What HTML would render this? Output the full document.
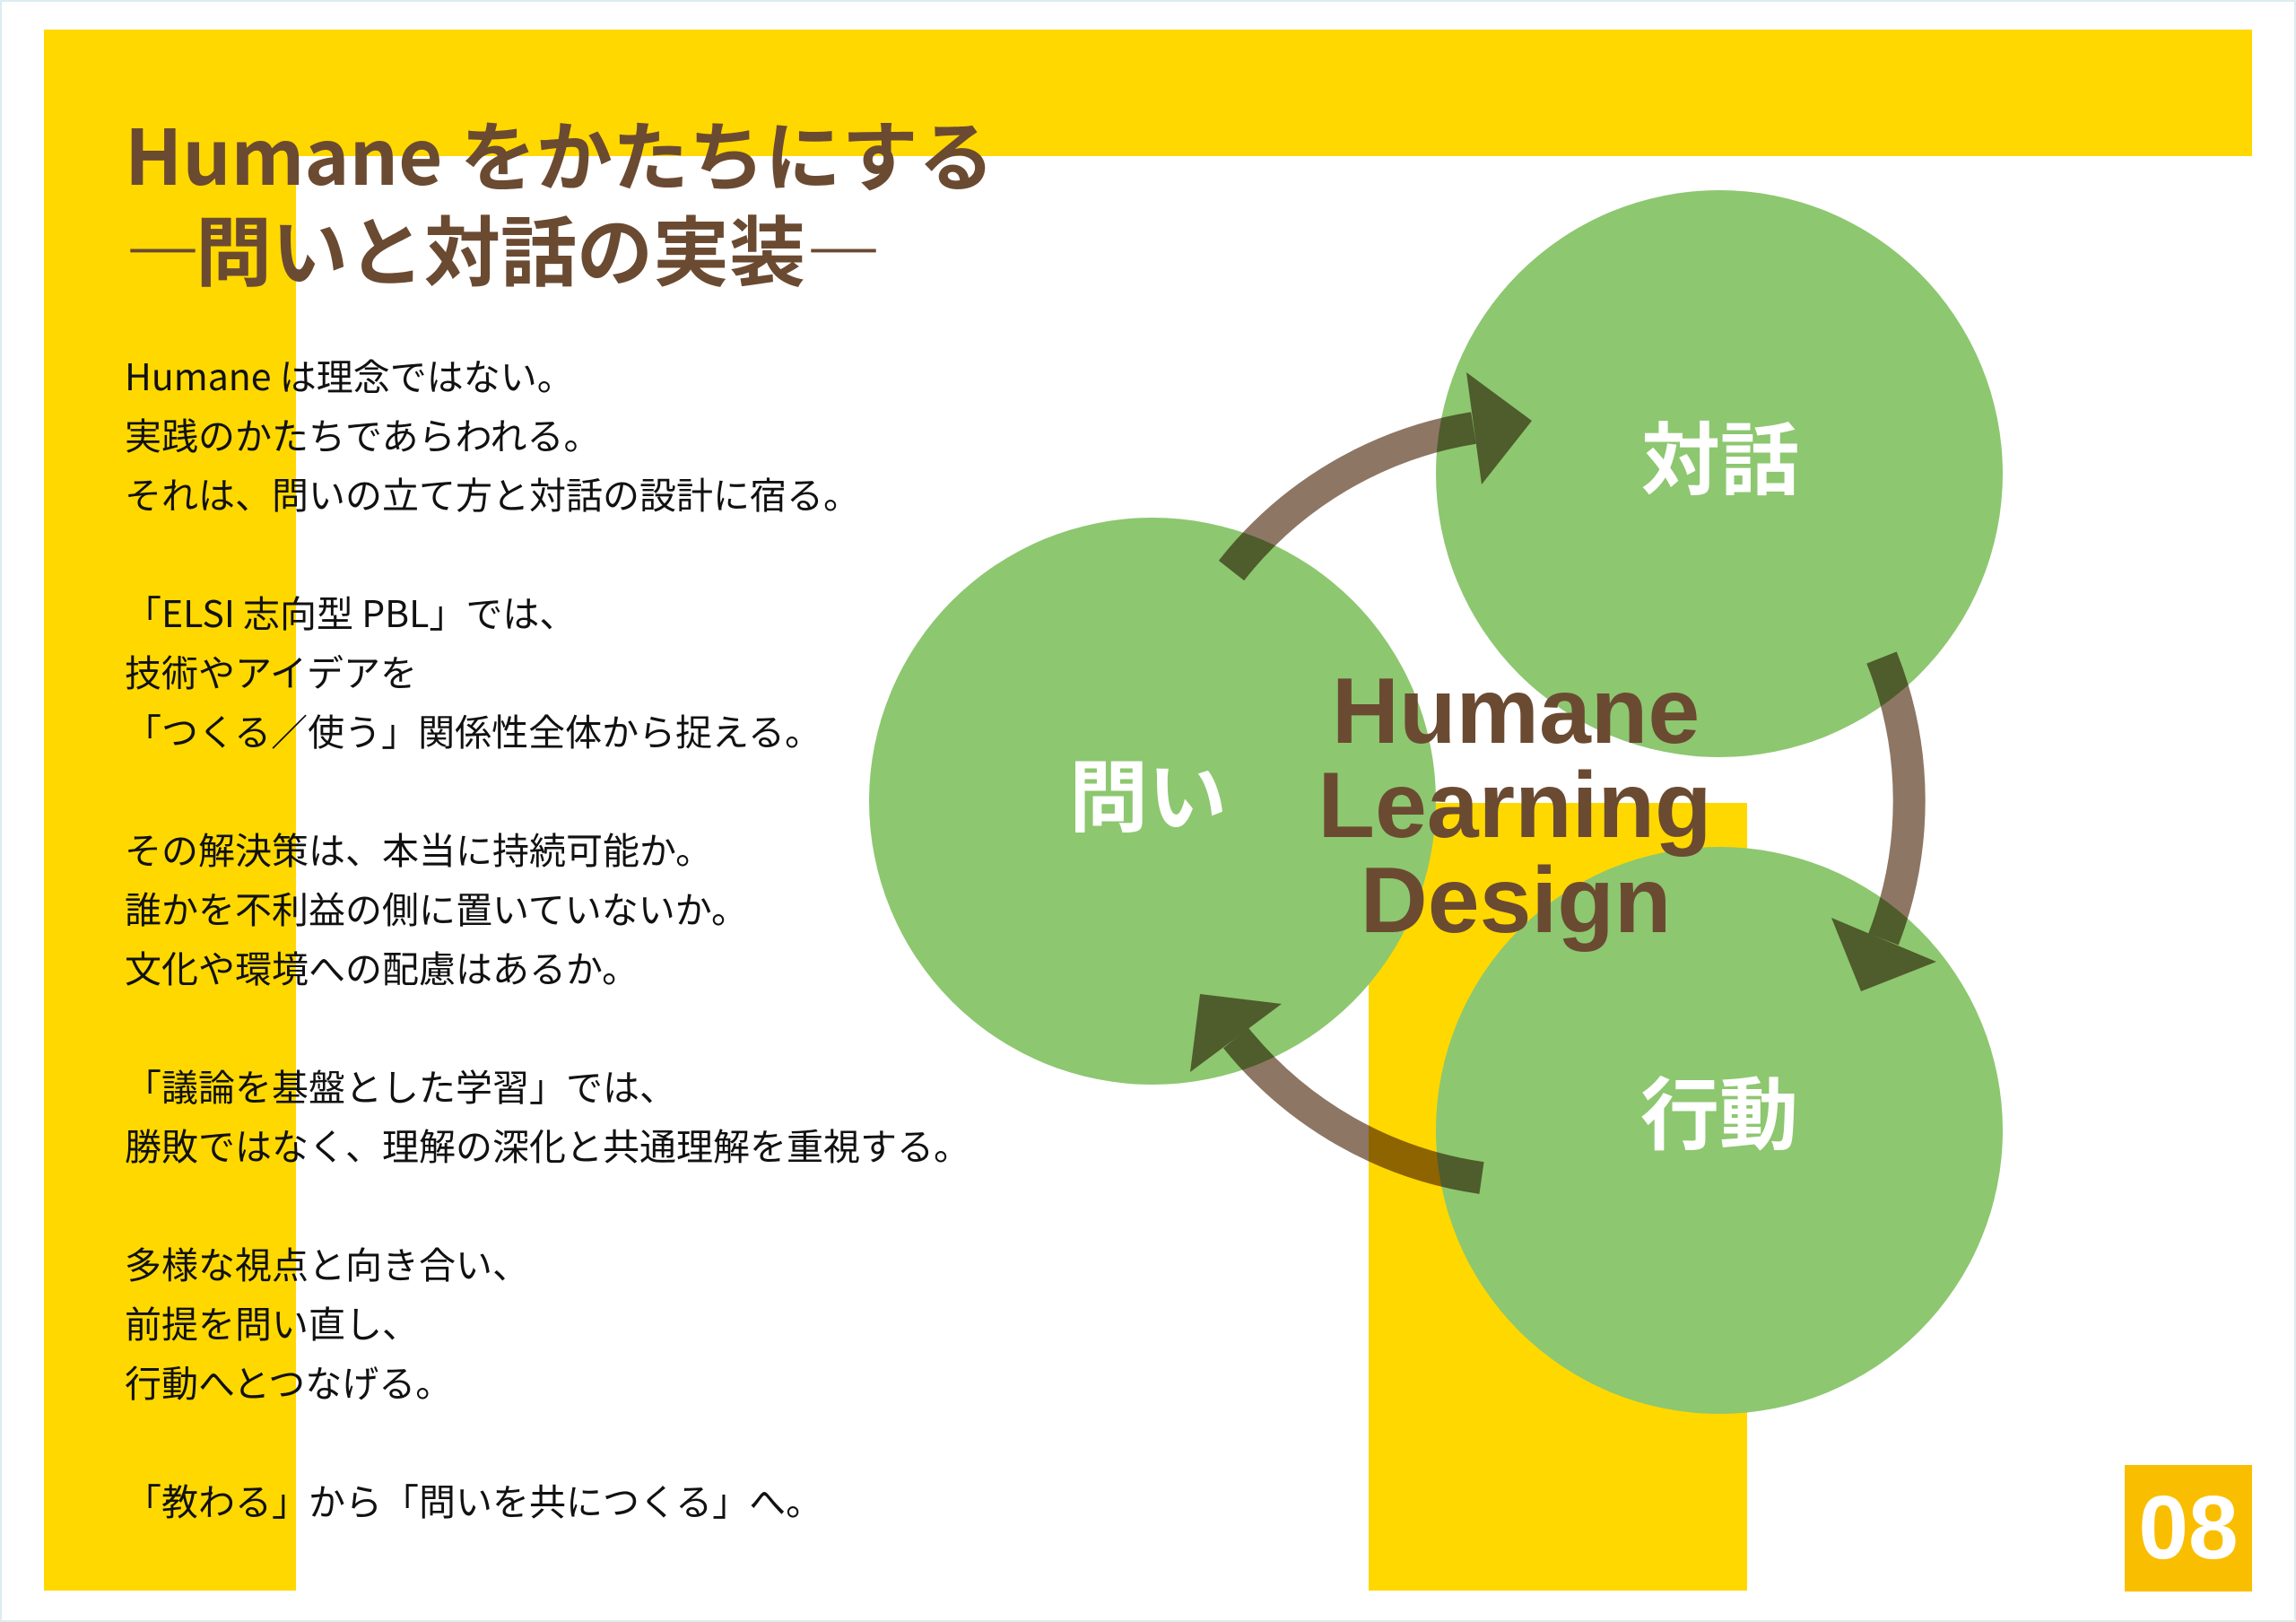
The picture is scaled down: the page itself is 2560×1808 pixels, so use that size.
<!DOCTYPE html>
<html><head><meta charset="utf-8"><style>
html,body{margin:0;padding:0;}
body{width:2560px;height:1808px;position:relative;overflow:hidden;background:#fff;font-family:"Liberation Sans","Noto Sans CJK JP",sans-serif;}
.frame{position:absolute;left:0;top:0;width:2556px;height:1804px;border:2px solid #dcecef;}
.y{position:absolute;background:#FFD800;}
.t{position:absolute;left:139px;font-family:"Noto Sans CJK JP",sans-serif;font-weight:700;color:#6B4A32;font-size:85px;line-height:100px;white-space:nowrap;}
.body{position:absolute;left:139px;top:384px;font-family:"Noto Sans CJK JP",sans-serif;font-size:41px;line-height:66px;color:#111;white-space:nowrap;}
.body div{height:66px;}
</style></head><body>
<div class="frame"></div>
<div class="y" style="left:49px;top:33px;width:281px;height:1740px"></div>
<div class="y" style="left:49px;top:33px;width:2462px;height:141px"></div>
<div class="y" style="left:1526px;top:895px;width:422px;height:878px"></div>
<div style="position:absolute;left:2369px;top:1633px;width:142px;height:141px;background:#FABE00;color:#fff;font-family:'Liberation Sans',sans-serif;font-weight:700;font-size:100px;line-height:141px;text-align:center;">08</div>

<div class="t" style="top:120px;">Humane をかたちにする</div>
<div class="t" style="top:226px;"><span style="letter-spacing:-6px">―</span>問いと対話の実装<span style="letter-spacing:-6px">―</span></div>

<div class="body">
<div>Humane は理念ではない。</div>
<div>実践のかたちであらわれる。</div>
<div>それは、問いの立て方と対話の設計に宿る。</div>
<div></div>
<div>「ELSI 志向型 PBL」では、</div>
<div>技術やアイデアを</div>
<div>「つくる／使う」関係性全体から捉える。</div>
<div></div>
<div>その解決策は、本当に持続可能か。</div>
<div>誰かを不利益の側に置いていないか。</div>
<div>文化や環境への配慮はあるか。</div>
<div></div>
<div>「議論を基盤とした学習」では、</div>
<div>勝敗ではなく、理解の深化と共通理解を重視する。</div>
<div></div>
<div>多様な視点と向き合い、</div>
<div>前提を問い直し、</div>
<div>行動へとつなげる。</div>
<div></div>
<div>「教わる」から「問いを共につくる」へ。</div>
</div>

<svg style="position:absolute;left:0;top:0" width="2560" height="1808" viewBox="0 0 2560 1808">
<circle cx="1285" cy="893" r="316" fill="#8DC770"/>
<circle cx="1917" cy="528" r="316" fill="#8DC770"/>
<circle cx="1917" cy="1260" r="316" fill="#8DC770"/>
<g style="mix-blend-mode:multiply">
<path d="M1373,636 A430,430 0 0 1 1643,477" fill="none" stroke="#8E7664" stroke-width="36"/>
<polygon points="1635,415 1708,469 1652,540" fill="#8E7664"/>
<path d="M2098,733 A430,430 0 0 1 2100,1047" fill="none" stroke="#8E7664" stroke-width="36"/>
<polygon points="2042,1023 2075,1105 2159,1072" fill="#8E7664"/>
<path d="M1652,1313 A430,430 0 0 1 1378,1157" fill="none" stroke="#8E7664" stroke-width="36"/>
<polygon points="1327,1195 1338,1108 1429,1119" fill="#8E7664"/>
</g>
<g font-family="Noto Sans CJK JP, sans-serif" font-weight="700" font-size="88" fill="#fff" text-anchor="middle">
<text x="1918" y="544">対話</text>
<text x="1280" y="920">問い</text>
<text x="1917" y="1274">行動</text>
</g>
<g font-family="Liberation Sans, sans-serif" font-weight="700" font-size="104" fill="#6B4A32" text-anchor="middle">
<text x="1690" y="828">Humane</text>
<text x="1689" y="933">Learning</text>
<text x="1690" y="1039">Design</text>
</g>
</svg>
</body></html>
